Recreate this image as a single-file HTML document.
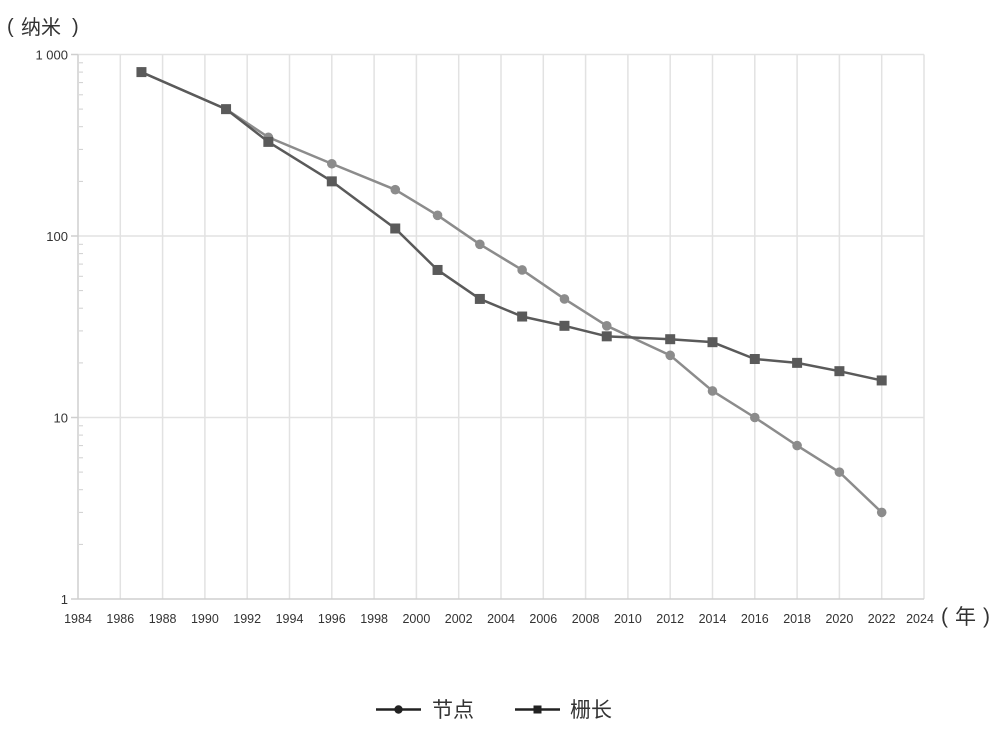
<!DOCTYPE html>
<html><head><meta charset="utf-8"><style>
html,body{margin:0;padding:0;background:#fff;}
svg{display:block;}
text{font-family:"Liberation Sans","Noto Sans CJK SC",sans-serif;fill:#333;}
</style></head><body>
<svg width="1000" height="741" viewBox="0 0 1000 741" xmlns="http://www.w3.org/2000/svg">
<g stroke="#e2e2e2" stroke-width="1.5">
<line x1="120.3" y1="54.5" x2="120.3" y2="599"/>
<line x1="162.6" y1="54.5" x2="162.6" y2="599"/>
<line x1="204.9" y1="54.5" x2="204.9" y2="599"/>
<line x1="247.2" y1="54.5" x2="247.2" y2="599"/>
<line x1="289.5" y1="54.5" x2="289.5" y2="599"/>
<line x1="331.8" y1="54.5" x2="331.8" y2="599"/>
<line x1="374.1" y1="54.5" x2="374.1" y2="599"/>
<line x1="416.4" y1="54.5" x2="416.4" y2="599"/>
<line x1="458.7" y1="54.5" x2="458.7" y2="599"/>
<line x1="501" y1="54.5" x2="501" y2="599"/>
<line x1="543.3" y1="54.5" x2="543.3" y2="599"/>
<line x1="585.6" y1="54.5" x2="585.6" y2="599"/>
<line x1="627.9" y1="54.5" x2="627.9" y2="599"/>
<line x1="670.2" y1="54.5" x2="670.2" y2="599"/>
<line x1="712.5" y1="54.5" x2="712.5" y2="599"/>
<line x1="754.8" y1="54.5" x2="754.8" y2="599"/>
<line x1="797.1" y1="54.5" x2="797.1" y2="599"/>
<line x1="839.4" y1="54.5" x2="839.4" y2="599"/>
<line x1="881.7" y1="54.5" x2="881.7" y2="599"/>
<line x1="924" y1="54.5" x2="924" y2="599"/>
<line x1="78" y1="54.5" x2="924" y2="54.5"/>
<line x1="78" y1="236" x2="924" y2="236"/>
<line x1="78" y1="417.5" x2="924" y2="417.5"/>
</g>
<g stroke="#cfcfcf" stroke-width="1.5">
<line x1="78" y1="54.5" x2="78" y2="599"/>
<line x1="78" y1="599" x2="924" y2="599"/>
<line x1="71" y1="54.5" x2="78" y2="54.5"/>
<line x1="71" y1="236" x2="78" y2="236"/>
<line x1="71" y1="417.5" x2="78" y2="417.5"/>
<line x1="71" y1="599" x2="78" y2="599"/>
</g>
<g stroke="#d0d0d0" stroke-width="1">
<line x1="79" x2="83" y1="62.8" y2="62.8"/><line x1="79" x2="83" y1="72.1" y2="72.1"/><line x1="79" x2="83" y1="82.6" y2="82.6"/><line x1="79" x2="83" y1="94.8" y2="94.8"/><line x1="79" x2="83" y1="109.1" y2="109.1"/><line x1="79" x2="83" y1="126.7" y2="126.7"/><line x1="79" x2="83" y1="149.4" y2="149.4"/><line x1="79" x2="83" y1="181.4" y2="181.4"/>
<line x1="79" x2="83" y1="244.3" y2="244.3"/><line x1="79" x2="83" y1="253.6" y2="253.6"/><line x1="79" x2="83" y1="264.1" y2="264.1"/><line x1="79" x2="83" y1="276.3" y2="276.3"/><line x1="79" x2="83" y1="290.6" y2="290.6"/><line x1="79" x2="83" y1="308.2" y2="308.2"/><line x1="79" x2="83" y1="330.9" y2="330.9"/><line x1="79" x2="83" y1="362.9" y2="362.9"/>
<line x1="79" x2="83" y1="425.8" y2="425.8"/><line x1="79" x2="83" y1="435.1" y2="435.1"/><line x1="79" x2="83" y1="445.6" y2="445.6"/><line x1="79" x2="83" y1="457.8" y2="457.8"/><line x1="79" x2="83" y1="472.1" y2="472.1"/><line x1="79" x2="83" y1="489.7" y2="489.7"/><line x1="79" x2="83" y1="512.4" y2="512.4"/><line x1="79" x2="83" y1="544.4" y2="544.4"/>
</g>
<g font-size="13" text-anchor="end">
<text x="68" y="59.5">1 000</text>
<text x="68" y="241">100</text>
<text x="68" y="422.5">10</text>
<text x="68" y="604">1</text>
</g>
<g font-size="12.5" text-anchor="middle">
<text x="78" y="623">1984</text><text x="120.3" y="623">1986</text><text x="162.6" y="623">1988</text><text x="204.9" y="623">1990</text><text x="247.2" y="623">1992</text><text x="289.5" y="623">1994</text><text x="331.8" y="623">1996</text><text x="374.1" y="623">1998</text><text x="416.4" y="623">2000</text><text x="458.7" y="623">2002</text><text x="501" y="623">2004</text><text x="543.3" y="623">2006</text><text x="585.6" y="623">2008</text><text x="627.9" y="623">2010</text><text x="670.2" y="623">2012</text><text x="712.5" y="623">2014</text><text x="754.8" y="623">2016</text><text x="797.1" y="623">2018</text><text x="839.4" y="623">2020</text><text x="881.7" y="623">2022</text><text x="920" y="623">2024</text>
</g>
<text x="7" y="33" font-size="20">(</text>
<text x="21" y="34" font-size="20">纳米</text>
<text x="72" y="33" font-size="20">)</text>
<text x="941" y="623" font-size="21">(</text>
<text x="955" y="624" font-size="21">年</text>
<text x="983" y="623" font-size="21">)</text>
<polyline fill="none" stroke="#8c8c8c" stroke-width="2.5" stroke-linejoin="round" points="141.45,72.09 226.05,109.14 268.35,137.25 331.8,163.77 395.25,189.67 437.55,215.33 479.85,244.31 522.15,269.96 564.45,298.94 606.75,325.82 670.2,355.35 712.5,390.98 754.8,417.5 797.1,445.61 839.4,472.14 881.7,512.4"/>
<g fill="#8c8c8c">
<circle cx="141.45" cy="72.09" r="4.8"/><circle cx="226.05" cy="109.14" r="4.8"/><circle cx="268.35" cy="137.25" r="4.8"/><circle cx="331.8" cy="163.77" r="4.8"/><circle cx="395.25" cy="189.67" r="4.8"/><circle cx="437.55" cy="215.33" r="4.8"/><circle cx="479.85" cy="244.31" r="4.8"/><circle cx="522.15" cy="269.96" r="4.8"/><circle cx="564.45" cy="298.94" r="4.8"/><circle cx="606.75" cy="325.82" r="4.8"/><circle cx="670.2" cy="355.35" r="4.8"/><circle cx="712.5" cy="390.98" r="4.8"/><circle cx="754.8" cy="417.5" r="4.8"/><circle cx="797.1" cy="445.61" r="4.8"/><circle cx="839.4" cy="472.14" r="4.8"/><circle cx="881.7" cy="512.4" r="4.8"/>
</g>
<polyline fill="none" stroke="#5a5a5a" stroke-width="2.5" stroke-linejoin="round" points="141.45,72.09 226.05,109.14 268.35,141.89 331.8,181.36 395.25,228.49 437.55,269.96 479.85,298.94 522.15,316.53 564.45,325.82 606.75,336.33 670.2,339.2 712.5,342.18 754.8,359.02 797.1,362.86 839.4,371.17 881.7,380.45"/>
<g fill="#5a5a5a">
<rect x="136.45" y="67.09" width="10" height="10"/><rect x="221.05" y="104.14" width="10" height="10"/><rect x="263.35" y="136.89" width="10" height="10"/><rect x="326.8" y="176.36" width="10" height="10"/><rect x="390.25" y="223.49" width="10" height="10"/><rect x="432.55" y="264.96" width="10" height="10"/><rect x="474.85" y="293.94" width="10" height="10"/><rect x="517.15" y="311.53" width="10" height="10"/><rect x="559.45" y="320.82" width="10" height="10"/><rect x="601.75" y="331.33" width="10" height="10"/><rect x="665.2" y="334.2" width="10" height="10"/><rect x="707.5" y="337.18" width="10" height="10"/><rect x="749.8" y="354.02" width="10" height="10"/><rect x="792.1" y="357.86" width="10" height="10"/><rect x="834.4" y="366.17" width="10" height="10"/><rect x="876.7" y="375.45" width="10" height="10"/>
</g>
<line x1="376" y1="709.5" x2="421" y2="709.5" stroke="#222" stroke-width="2.5"/>
<circle cx="398.5" cy="709.5" r="4.2" fill="#222"/>
<text x="432" y="717" font-size="21">节点</text>
<line x1="515" y1="709.5" x2="560" y2="709.5" stroke="#222" stroke-width="2.5"/>
<rect x="533.5" y="705.5" width="8" height="8" fill="#222"/>
<text x="570" y="717" font-size="21">栅长</text>
</svg>
</body></html>
